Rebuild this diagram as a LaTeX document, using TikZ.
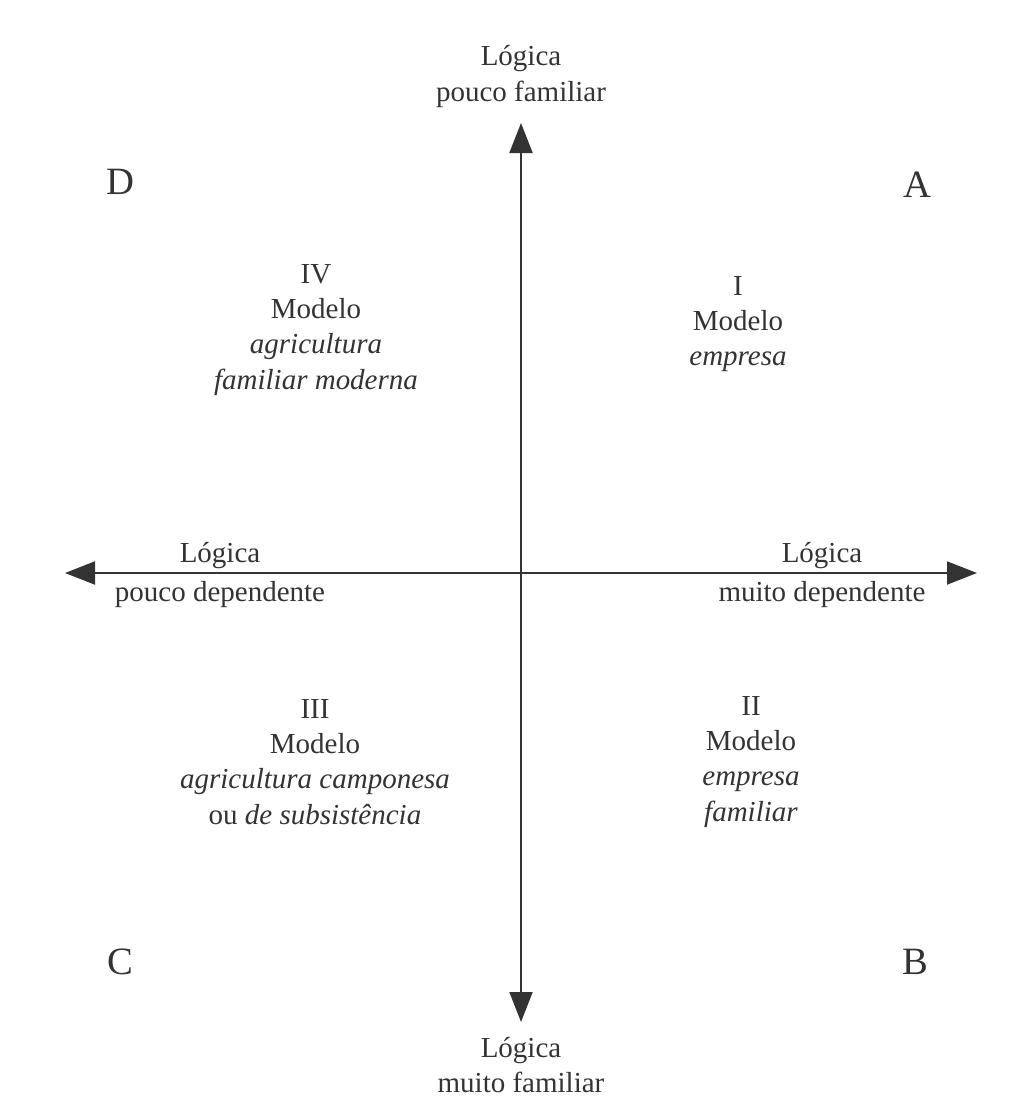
\documentclass[tikz,border=0pt]{standalone}
\usepackage{fontspec}
\setmainfont{Liberation Serif}
\usetikzlibrary{arrows.meta}
\definecolor{ink}{HTML}{333333}
\begin{document}
\begin{tikzpicture}[txt/.style={align=center, text=ink, font=\fontsize{16.5}{20}\selectfont},
    sidetxt/.style={align=center, text=ink, font=\fontsize{16.5}{22.5}\selectfont},
    corner/.style={text=ink, font=\fontsize{22}{24}\selectfont},
    axis/.style={{Triangle[length=0.6cm,width=0.46cm]}-{Triangle[length=0.6cm,width=0.46cm]}, line width=1.1pt, draw=ink, fill=ink}]
\useasboundingbox (0,0) rectangle (20.46,-21.94);
\coordinate (T) at (10.42,-2.46);
\coordinate (Bt) at (10.42,-20.44);
\coordinate (L) at (1.30,-11.46);
\coordinate (R) at (19.54,-11.46);
\draw [axis] (Bt) -- (T);
\draw [axis] (L) -- (R);
\node[txt] (top) at (10.42,-1.53) {Lógica\\pouco familiar};
\node[txt] (bottom) at (10.42,-21.30) {Lógica\\muito familiar};
\node[sidetxt] (left) at (4.40,-11.5) {Lógica\\pouco dependente};
\node[sidetxt] (right) at (16.44,-11.5) {Lógica\\muito dependente};
\node[corner] (D) at (2.40,-3.64) {D};
\node[corner] (A) at (18.34,-3.70) {A};
\node[corner] (C) at (2.40,-19.24) {C};
\node[corner] (B) at (18.30,-19.24) {B};
\node[txt] (IV) at (6.32,-6.60) {IV\\Modelo\\\textit{agricultura}\\\textit{familiar moderna}};
\node[txt] (I) at (14.76,-6.48) {I\\Modelo\\\textit{empresa}};
\node[txt] (III) at (6.30,-15.24) {III\\Modelo\\\textit{agricultura camponesa}\\ou \textit{de subsistência}};
\node[txt] (II) at (15.02,-15.24) {II\\Modelo\\\textit{empresa}\\\textit{familiar}};
\end{tikzpicture}
\end{document}
